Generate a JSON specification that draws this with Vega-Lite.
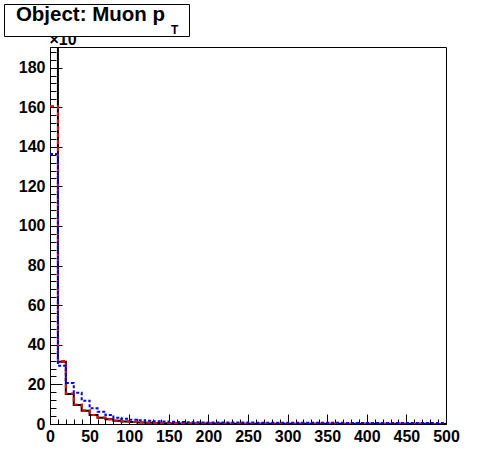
{
  "$schema": "https://vega.github.io/schema/vega-lite/v6.json",
  "autosize": {"type": "none"},
  "padding": {"left": 50, "top": 47, "right": 50, "bottom": 48},
  "width": 396,
  "height": 377,
  "config": {
    "view": {"stroke": "black", "strokeWidth": 1},
    "font": "Liberation Sans",
    "axis": {"labelFont": "Liberation Sans", "labelFontWeight": "bold", "labelColor": "black", "domainColor": "black", "tickColor": "black", "grid": false, "labelOverlap": false, "labelFlush": false},
    "axisY": {"labelOverlap": false},
    "axisQuantitative": {"labelOverlap": false}
  },
  "data": {"values": [
    {"lo": 0, "b": 200, "r": 160.5, "u": 136.4},
    {"lo": 10, "b": 31.5, "r": 31.8, "u": 29.4},
    {"lo": 20, "b": 15.2, "r": 15.4, "u": 20.7},
    {"lo": 30, "b": 9.6, "r": 9.8, "u": 15.8},
    {"lo": 40, "b": 6.7, "r": 6.9, "u": 11.8},
    {"lo": 50, "b": 4.5, "r": 4.6, "u": 7.9},
    {"lo": 60, "b": 3.2, "r": 3.3, "u": 6.2},
    {"lo": 70, "b": 2.4, "r": 2.4, "u": 4.5},
    {"lo": 80, "b": 1.7, "r": 1.8, "u": 3.2},
    {"lo": 90, "b": 1.3, "r": 1.3, "u": 2.6},
    {"lo": 100, "b": 1.0, "r": 1.0, "u": 2.2},
    {"lo": 110, "b": 0.8, "r": 0.8, "u": 1.9},
    {"lo": 120, "b": 0.65, "r": 0.65, "u": 1.6},
    {"lo": 130, "b": 0.5, "r": 0.5, "u": 1.4},
    {"lo": 140, "b": 0.4, "r": 0.42, "u": 1.3},
    {"lo": 150, "b": 0.35, "r": 0.35, "u": 1.1},
    {"lo": 160, "b": 0.3, "r": 0.3, "u": 1.0},
    {"lo": 170, "b": 0.27, "r": 0.27, "u": 0.9},
    {"lo": 180, "b": 0.24, "r": 0.24, "u": 0.85},
    {"lo": 190, "b": 0.22, "r": 0.22, "u": 0.8},
    {"lo": 200, "b": 0.2, "r": 0.2, "u": 0.8},
    {"lo": 210, "b": 0.19, "r": 0.19, "u": 0.75},
    {"lo": 220, "b": 0.18, "r": 0.18, "u": 0.75},
    {"lo": 230, "b": 0.17, "r": 0.17, "u": 0.72},
    {"lo": 240, "b": 0.16, "r": 0.16, "u": 0.7},
    {"lo": 250, "b": 0.15, "r": 0.15, "u": 0.7},
    {"lo": 260, "b": 0.14, "r": 0.14, "u": 0.68},
    {"lo": 270, "b": 0.14, "r": 0.14, "u": 0.66},
    {"lo": 280, "b": 0.13, "r": 0.13, "u": 0.65},
    {"lo": 290, "b": 0.13, "r": 0.13, "u": 0.64},
    {"lo": 300, "b": 0.12, "r": 0.12, "u": 0.63},
    {"lo": 310, "b": 0.12, "r": 0.12, "u": 0.62},
    {"lo": 320, "b": 0.11, "r": 0.11, "u": 0.61},
    {"lo": 330, "b": 0.11, "r": 0.11, "u": 0.6},
    {"lo": 340, "b": 0.1, "r": 0.1, "u": 0.6},
    {"lo": 350, "b": 0.1, "r": 0.1, "u": 0.58},
    {"lo": 360, "b": 0.1, "r": 0.1, "u": 0.57},
    {"lo": 370, "b": 0.09, "r": 0.09, "u": 0.56},
    {"lo": 380, "b": 0.09, "r": 0.09, "u": 0.55},
    {"lo": 390, "b": 0.09, "r": 0.09, "u": 0.55},
    {"lo": 400, "b": 0.08, "r": 0.08, "u": 0.54},
    {"lo": 410, "b": 0.08, "r": 0.08, "u": 0.53},
    {"lo": 420, "b": 0.08, "r": 0.08, "u": 0.52},
    {"lo": 430, "b": 0.08, "r": 0.08, "u": 0.52},
    {"lo": 440, "b": 0.07, "r": 0.07, "u": 0.51},
    {"lo": 450, "b": 0.07, "r": 0.07, "u": 0.5},
    {"lo": 460, "b": 0.07, "r": 0.07, "u": 0.5},
    {"lo": 470, "b": 0.07, "r": 0.07, "u": 0.49},
    {"lo": 480, "b": 0.06, "r": 0.06, "u": 0.49},
    {"lo": 490, "b": 0.06, "r": 0.06, "u": 0.48},
    {"lo": 500, "b": 0.06, "r": 0.06, "u": 0.48}
  ]},
  "transform": [{"fold": ["b", "r", "u"], "as": ["s", "v"]}],
  "encoding": {
    "x": {
      "field": "lo",
      "type": "quantitative",
      "scale": {"domain": [0, 500], "nice": false, "zero": false},
      "axis": {
        "title": null,
        "values": [0,10,20,30,40,50,60,70,80,90,100,110,120,130,140,150,160,170,180,190,200,210,220,230,240,250,260,270,280,290,300,310,320,330,340,350,360,370,380,390,400,410,420,430,440,450,460,470,480,490,500],
        "labelExpr": "datum.value % 50 === 0 ? datum.label : ''",
        "labelOverlap": false,
        "tickSize": -10,
        "tickDash": {"condition": {"test": "datum.value % 50 === 0", "value": [20, 0]}, "value": [5, 40]},
        "labelFontSize": 16,
        "labelPadding": 14
      }
    },
    "y": {
      "field": "v",
      "type": "quantitative",
      "scale": {"domain": [0, 190.4], "nice": false},
      "axis": {
        "title": "×10",
        "titleAngle": 0,
        "titleX": -1,
        "titleY": -3,
        "titleAlign": "left",
        "titleBaseline": "alphabetic",
        "titleFont": "Liberation Sans",
        "titleFontSize": 16,
        "titleFontWeight": "bold",
        "titleColor": "black",
        "values": [0,4,8,12,16,20,24,28,32,36,40,44,48,52,56,60,64,68,72,76,80,84,88,92,96,100,104,108,112,116,120,124,128,132,136,140,144,148,152,156,160,164,168,172,176,180,184,188],
        "labelExpr": "datum.value % 20 === 0 ? datum.label : ''",
        "labelOverlap": false,
        "tickSize": -12,
        "tickDash": {"condition": {"test": "datum.value % 20 === 0", "value": [20, 0]}, "value": [6, 40]},
        "labelFontSize": 16,
        "labelPadding": 17
      }
    }
  },
  "layer": [
    {
      "transform": [{"filter": "datum.s === 'b'"}],
      "mark": {"type": "line", "interpolate": "step-after", "strokeWidth": 2, "clip": true},
      "encoding": {
        "color": {
          "datum": "T",
          "scale": {"range": ["black"]},
          "legend": {
            "title": "\u200b\u00a0\u00a0Object: Muon p",
            "orient": "none",
            "legendX": -46,
            "legendY": -43,
            "titleOrient": "left",
            "titleAnchor": "start",
            "titleBaseline": "top",
            "titlePadding": 0,
            "titleFont": "Liberation Sans",
            "titleFontSize": 20.5,
            "titleFontWeight": "bold",
            "titleColor": "black",
            "titleLimit": 400,
            "labelExpr": "['', 'T\u00a0\u00a0\u00a0\u200b']",
            "labelFont": "Liberation Sans",
            "labelFontSize": 12,
            "labelFontWeight": "bold",
            "labelColor": "black",
            "labelBaseline": "top",
            "labelOffset": -6.5,
            "labelLimit": 200,
            "symbolSize": 20,
            "symbolOpacity": 0,
            "symbolStrokeWidth": 0,
            "padding": 0.5,
            "strokeColor": "black",
            "fillColor": "white",
            "cornerRadius": 0,
            "zindex": 1
          }
        }
      }
    },
    {
      "transform": [{"filter": "datum.s === 'r'"}],
      "mark": {"type": "line", "interpolate": "step-after", "color": "#ff0000", "strokeWidth": 2, "strokeDash": [4, 3], "clip": true}
    },
    {
      "transform": [{"filter": "datum.s === 'u'"}],
      "mark": {"type": "line", "interpolate": "step-after", "color": "#0000ff", "strokeWidth": 2, "strokeDash": [3, 2], "clip": true}
    }
  ]
}
